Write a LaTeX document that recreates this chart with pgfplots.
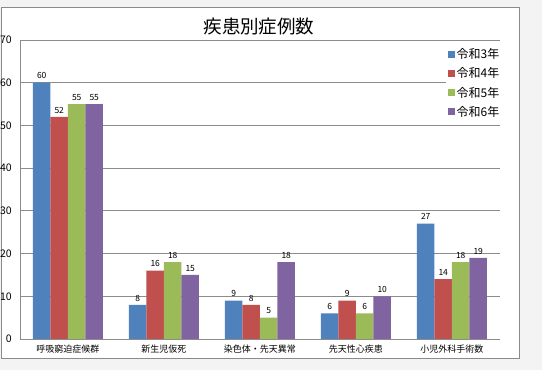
\documentclass[border=0pt]{standalone}
\usepackage{pgfplots}
\pgfplotsset{compat=1.18}
\usepackage{fontspec}
\setmainfont{Noto Sans CJK JP}
\definecolor{c1}{HTML}{4F81BD}
\definecolor{c2}{HTML}{C0504D}
\definecolor{c3}{HTML}{9BBB59}
\definecolor{c4}{HTML}{8064A2}
\definecolor{bgray}{HTML}{F3F3F3}
\definecolor{fgray}{HTML}{8A8A8A}
\definecolor{ggray}{HTML}{8C8C8C}
\begin{document}
\begin{tikzpicture}[x=1pt,y=1pt]
\fill[bgray] (0,0) rectangle (542,370);
\filldraw[fill=white, draw=fgray, line width=1pt] (1,11) rectangle (519,362);
\node[font=\fontsize{18.5}{21}\selectfont] at (259,344) {疾患別症例数};
\begin{axis}[
  at={(20pt,31pt)}, anchor=south west,
  width=480pt, height=299pt, scale only axis,
  ybar=0pt, bar width=17.5pt,
  xmin=-0.5, xmax=4.5, ymin=0, ymax=70,
  xtick=data,
  xticklabels={呼吸窮迫症候群,新生児仮死,染色体・先天異常,先天性心疾患,小児外科手術数},
  ytick={0,10,...,70},
  ymajorgrids, grid style={ggray, line width=0.8pt},
  axis line style={ggray, line width=0.8pt},
  axis x line*=bottom, axis y line*=left,
  separate axis lines,
  x axis line style={-}, y axis line style={-},
  major tick length=0pt,
  /pgf/number format/assume math mode=true,
  yticklabel style={font=\fontsize{10.5}{12}\selectfont, inner sep=0pt, xshift=-8pt},
  xticklabel style={font=\fontsize{9}{10}\selectfont, inner sep=0pt, yshift=-6pt},
  nodes near coords,
  every node near coord/.append style={font=\fontsize{8.5}{9}\selectfont, black, inner sep=1pt, yshift=2.5pt},
  legend style={draw=none, fill=white, at={(0.8875,0.985)}, anchor=north west,
    font=\fontsize{12}{13}\selectfont, row sep=3.5pt, inner sep=2pt},
  legend cell align=left,
  legend image code/.code={\fill[#1] (0pt,-3pt) rectangle (6.5pt,3.5pt);},
]
\addplot[fill=c1, draw=none] coordinates {(0,60) (1,8) (2,9) (3,6) (4,27)};
\addplot[fill=c2, draw=none] coordinates {(0,52) (1,16) (2,8) (3,9) (4,14)};
\addplot[fill=c3, draw=none] coordinates {(0,55) (1,18) (2,5) (3,6) (4,18)};
\addplot[fill=c4, draw=none] coordinates {(0,55) (1,15) (2,18) (3,10) (4,19)};
\legend{令和3年,令和4年,令和5年,令和6年}
\end{axis}
\end{tikzpicture}
\end{document}
